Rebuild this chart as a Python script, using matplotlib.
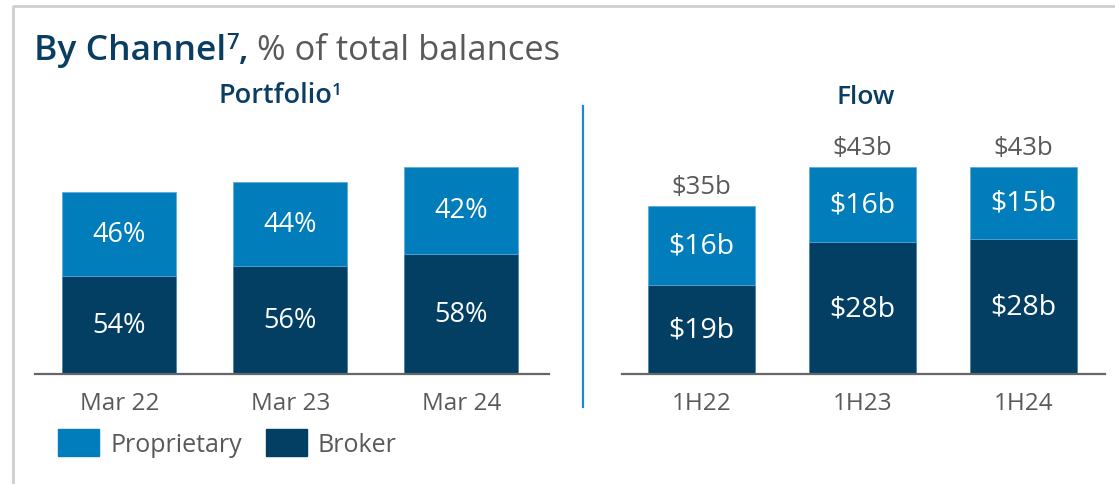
import matplotlib
matplotlib.use('Agg')
import matplotlib.pyplot as plt
from matplotlib.patches import Patch
from matplotlib.lines import Line2D
from matplotlib.transforms import IdentityTransform

plt.rcParams['font.family'] = ['Open Sans', 'DejaVu Sans']

# ---- data ----
portfolio_periods = ['Mar 22', 'Mar 23', 'Mar 24']
portfolio_total = [37.7, 39.9, 43.0]      # relative bar height
broker_share = [54, 56, 58]               # %
proprietary_share = [46, 44, 42]          # %

flow_periods = ['1H22', '1H23', '1H24']
flow_broker = [18.4, 27.4, 28.0]          # $b
flow_proprietary = [16.5, 15.6, 15.0]     # $b
flow_broker_labels = ['$19b', '$28b', '$28b']
flow_proprietary_labels = ['$16b', '$16b', '$15b']
flow_total_labels = ['$35b', '$43b', '$43b']

C_PROP = '#007DBA'
C_BROKER = '#023F63'
C_TITLE = '#0A3D62'
C_GRAY = '#595959'

W, H = 1115, 485
fig = plt.figure(figsize=(W / 100, H / 100), dpi=100)
base = 375.3
ax1 = fig.add_axes([35 / W, (H - base) / H, 514 / W, 241.5 / H])
ax2 = fig.add_axes([622 / W, (H - base) / H, 483 / W, 241.5 / H])

portfolio_broker = [t * s / 100 for t, s in zip(portfolio_total, broker_share)]
portfolio_prop = [t - b for t, b in zip(portfolio_total, portfolio_broker)]

bw = 0.665
b1 = ax1.bar(range(3), portfolio_broker, bw, color=C_BROKER, edgecolor='#3f7fa6', linewidth=0.5)
p1 = ax1.bar(range(3), portfolio_prop, bw, bottom=portfolio_broker, color=C_PROP,
             edgecolor='#5aa8d6', linewidth=0.5)
ax1.bar_label(b1, labels=[f'{v}%' for v in broker_share], label_type='center',
              color='white', fontsize=19.5)
ax1.bar_label(p1, labels=[f'{v}%' for v in proprietary_share], label_type='center',
              color='white', fontsize=19.5)

b2 = ax2.bar(range(3), flow_broker, bw, color=C_BROKER, edgecolor='#3f7fa6', linewidth=0.5)
p2 = ax2.bar(range(3), flow_proprietary, bw, bottom=flow_broker, color=C_PROP,
             edgecolor='#5aa8d6', linewidth=0.5)
ax2.bar_label(b2, labels=flow_broker_labels, label_type='center', color='white', fontsize=20.5)
ax2.bar_label(p2, labels=flow_proprietary_labels, label_type='center', color='white', fontsize=20.5)
ax2.bar_label(p2, labels=flow_total_labels, padding=5, color=C_GRAY, fontsize=18.5)

for ax, labels, xr in [(ax1, portfolio_periods, (-0.493, 2.513)), (ax2, flow_periods, (-0.493, 2.507))]:
    ax.set_xlim(*xr)
    ax.set_ylim(0, 50)
    for s in ['top', 'left', 'right']:
        ax.spines[s].set_visible(False)
    ax.spines['bottom'].set_color('#666666')
    ax.spines['bottom'].set_linewidth(1.6)
    ax.set_yticks([])
    ax.set_xticks(range(3), labels)
    ax.tick_params(axis='x', length=0, pad=12, labelsize=17.5, labelcolor=C_GRAY)
    ax.patch.set_alpha(0)

# title pieces, placed one after another in pixel coordinates
r = fig.canvas.get_renderer()
def pieces(x, y, parts):
    # parts: (text, fontsize, weight, color, raise_px)
    texts = []
    for s, fs, wt, col, dy in parts:
        t = fig.text(x, H - y + dy, s, transform=IdentityTransform(), fontsize=fs,
                     fontweight=wt, color=col, va='baseline')
        bb = t.get_window_extent(r)
        texts.append(t)
        x = bb.x1
    return texts

pieces(34, 60, [('By Channel', 25.5, 'semibold', C_TITLE, 0),
                ('7', 16, 'semibold', C_TITLE, 11),
                (',', 25.5, 'semibold', C_TITLE, 0),
                (' % of total balances', 24.8, 'normal', C_GRAY, 0)])

def centered(cx, y, parts):
    ts = pieces(0, y, parts)
    w = ts[-1].get_window_extent(r).x1 - ts[0].get_window_extent(r).x0
    for t in ts:
        px, py = t.get_position()
        t.set_position((px + cx - w / 2, py))

centered(280, 103.5, [('Portfolio', 19.5, 'semibold', C_TITLE, 0),
                      ('1', 12.5, 'semibold', C_TITLE, 8)])
centered(866, 104, [('Flow', 19, 'semibold', C_TITLE, 0)])

# divider and frame
fig.add_artist(Line2D([583 / W, 583 / W], [1 - 107 / H, 1 - 408 / H], color='#1a8ac8', linewidth=1.6))
fig.add_artist(Line2D([13 / W, 13 / W, 1], [0, 1 - 7 / H, 1 - 7 / H], color='#cfcfcf', linewidth=2))

handles = [Patch(color=C_PROP, label='Proprietary'), Patch(color=C_BROKER, label='Broker')]
fig.legend(handles=handles, loc='upper left', bbox_to_anchor=(58 / W, 1 - 430 / H), ncol=2,
           frameon=False, fontsize=18, labelcolor=C_GRAY, handlelength=1.64, handleheight=1.3,
           handletextpad=0.45, columnspacing=0.95, borderpad=0, borderaxespad=0)

fig.savefig('out.png', dpi=100)
